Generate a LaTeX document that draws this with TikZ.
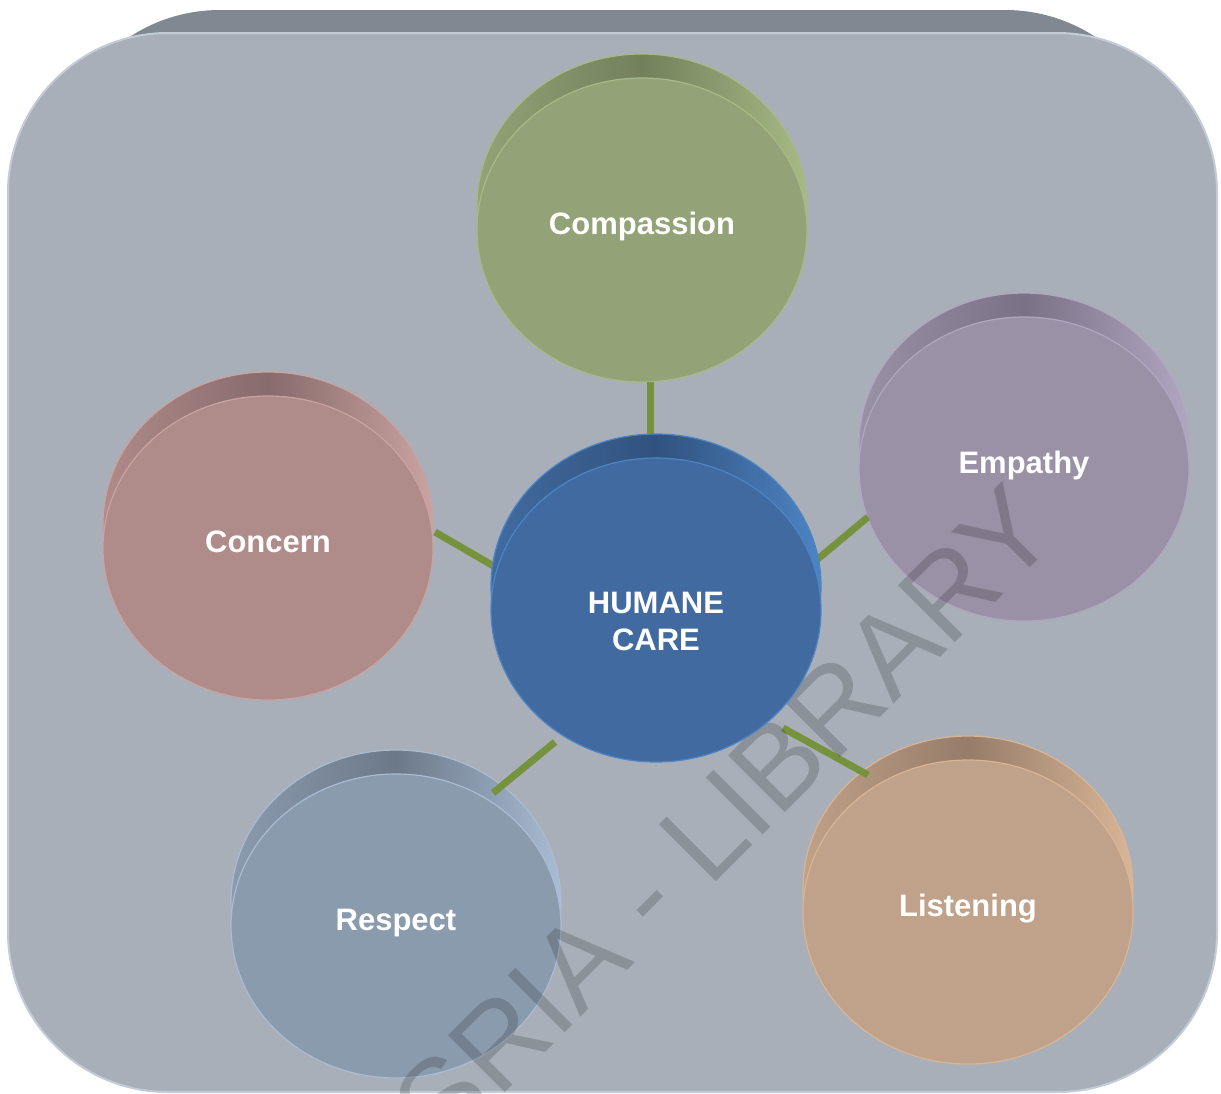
\documentclass[tikz,border=0pt]{standalone}
\usepackage{fontspec}
\setmainfont{Liberation Sans}
\usetikzlibrary{shapes.geometric,calc}
\definecolor{bgface}{HTML}{A8AFB8}
\definecolor{bgback}{HTML}{808891}
\definecolor{bgedge}{HTML}{C2CBD6}
\definecolor{conn}{HTML}{76923C}
\definecolor{cpF}{HTML}{93A377}\definecolor{cpD}{HTML}{73805C}\definecolor{cpE}{HTML}{A7BA85}
\definecolor{hcF}{HTML}{416BA0}\definecolor{hcD}{HTML}{31527E}\definecolor{hcE}{HTML}{4D84C4}
\definecolor{coF}{HTML}{AF8B8A}\definecolor{coD}{HTML}{886B6B}\definecolor{coE}{HTML}{C9A3A1}
\definecolor{emF}{HTML}{9B91A6}\definecolor{emD}{HTML}{7A7186}\definecolor{emE}{HTML}{B1A6C0}
\definecolor{reF}{HTML}{8B9BAE}\definecolor{reD}{HTML}{6C7989}\definecolor{reE}{HTML}{A9BCD3}
\definecolor{liF}{HTML}{C0A189}\definecolor{liD}{HTML}{967C69}\definecolor{liE}{HTML}{D9B596}
\tikzset{
  discnode/.style={ellipse, minimum width=165pt, minimum height=152pt, inner sep=0pt, line width=0.6pt},
  lbl/.style={text=white, font=\fontsize{15.5}{18.5}\selectfont\bfseries, inner sep=0pt},
  link/.style={draw=conn, line width=3.5pt},
  wm/.style={text=black, text opacity=0.17, font=\fontsize{58.5}{60}\selectfont, inner sep=0pt},
}
% name, position, front, dark, edge
\newcommand\mydisc[5]{%
  \path[left color=#3, right color=#5, middle color=#4, draw=#5, line width=0.6pt]
    ($(#2)+(0,-24)$) ellipse [x radius=82.5pt, y radius=76pt];
  \node[discnode, fill=#3, draw=#5] (#1) at (#2) {};
}
\begin{document}
\begin{tikzpicture}[x=0.5pt,y=-0.5pt]
\useasboundingbox (0,0) rectangle (1221,1093);
\begin{scope}
\clip (0,0) rectangle (1221,1093);
% background plate
\fill[bgback, rounded corners=82.5pt] (55,10) rectangle (1170,700);
\path[fill=bgface, draw=bgedge, line width=1pt, rounded corners=80pt] (8,33) rectangle (1217,1092);

% outer discs
\mydisc{compassion}{642,230}{cpF}{cpD}{cpE}
\mydisc{concern}{268,548}{coF}{coD}{coE}
\mydisc{empathy}{1024,469}{emF}{emD}{emE}
\mydisc{respect}{396,926}{reF}{reD}{reE}
\mydisc{listening}{968,912}{liF}{liD}{liE}
\coordinate (hc) at (656,610);

% connectors
\draw[link] ($(compassion)+(8,152)$) -- ($(hc)+(-6,-173)$);
\draw[link] ($(concern)+(167,-16)$) -- ($(hc)+(-159,-42)$);
\draw[link] ($(empathy)+(-156,48)$) -- ($(hc)+(151,-42)$);
\draw[link] ($(respect)+(97,-133)$) -- ($(hc)+(-101,132)$);
\draw[link] ($(listening)+(-100,-137)$) -- ($(hc)+(127,118)$);

% watermark
\node[wm, rotate=45, anchor=base] (wmark) at (633,965) {CODESRIA - LIBRARY};

% centre disc
\mydisc{humane}{656,610}{hcF}{hcD}{hcE}

% labels
\node[lbl, anchor=base] (tcp) at ($(compassion)+(0,4.5)$) {Compassion};
\node[lbl, anchor=base] (tco) at ($(concern)+(0,4.5)$) {Concern};
\node[lbl, anchor=base] (tem) at ($(empathy)+(0,4.5)$) {Empathy};
\node[lbl, anchor=base] (tre) at ($(respect)+(0,4.5)$) {Respect};
\node[lbl, anchor=base] (tli) at ($(listening)+(0,4.5)$) {Listening};
\node[lbl, align=center] (thc) at ($(humane)+(0,11.5)$) {HUMANE\\CARE};
\end{scope}
\end{tikzpicture}
\end{document}
